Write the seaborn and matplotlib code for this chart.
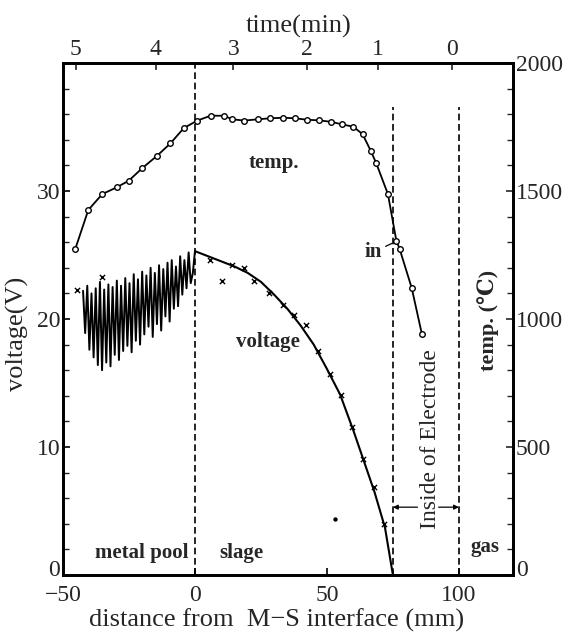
import matplotlib
matplotlib.use("Agg")
import matplotlib.pyplot as plt
import matplotlib.transforms as mtransforms
import seaborn as sns
import pandas as pd

# ---------------- data ----------------
# temperature (right axis, degC) vs distance from M-S interface (mm)
temp_d = [-45.4, -40.4, -35.1, -29.7, -25.1, -20.0, -14.3, -9.3, -4.2, 0.9,
          5.9, 10.9, 14.2, 18.7, 23.8, 28.5, 33.3, 38.0, 42.6, 47.0, 51.7,
          55.8, 60.0, 63.5, 66.6, 68.7, 73.1, 76.3, 77.5, 82.1, 86.0]
temp_c = [1272, 1426, 1488, 1514, 1540, 1589, 1638, 1686, 1746, 1775,
          1794, 1794, 1780, 1775, 1780, 1784, 1786, 1784, 1778, 1776, 1770,
          1760, 1751, 1722, 1657, 1608, 1488, 1306, 1275, 1122, 940]

# voltage curve in the slag (V)
volt_curve_d = [0, 5, 10, 15, 20, 25, 30, 35, 40, 45, 50, 55, 60, 64, 68, 72, 75]
volt_curve_v = [25.3, 24.9, 24.5, 24.1, 23.6, 22.9, 21.9, 20.8, 19.5, 18.0, 16.1,
                14.1, 11.3, 8.9, 6.5, 3.7, 0.0]

# measured voltage points (x marks)
volt_mark_d = [-44.8, -35.4, 5.8, 10.4, 14.0, 18.5, 22.5, 28.2, 33.2, 37.6, 42.0,
               46.6, 51.1, 55.2, 59.4, 63.6, 67.8, 71.8]
volt_mark_v = [22.3, 23.3, 24.6, 23.0, 24.2, 24.0, 23.0, 22.0, 21.1, 20.3, 19.5,
               17.5, 15.7, 14.1, 11.6, 9.1, 6.9, 4.0]

# stray printed dot
dot_d = [52.9]
dot_v = [4.35]

# oscillating voltage record in the metal pool (V)
trace_d = [-42.4, -41.6, -40.8, -40.0, -39.2, -38.4, -37.6, -36.8, -36.0, -35.2,
           -34.4, -33.6, -32.8, -32.0, -31.2, -30.4, -29.6, -28.8, -28.0, -27.2,
           -26.4, -25.6, -24.8, -24.0, -23.2, -22.4, -21.6, -20.8, -20.0, -19.2,
           -18.4, -17.6, -16.8, -16.0, -15.2, -14.4, -13.6, -12.8, -12.0, -11.2,
           -10.4, -9.6, -8.8, -8.0, -7.2, -6.4, -5.6, -4.8, -4.0, -3.2,
           -2.4, -1.6, -0.8, 0.0]
trace_v = [22.2, 18.9, 22.6, 17.6, 22.0, 17.0, 22.4, 16.4, 22.9, 16.0,
           22.3, 16.6, 22.7, 16.3, 22.5, 17.2, 23.0, 16.8, 22.6, 17.5,
           23.2, 17.9, 22.8, 17.4, 23.5, 18.3, 23.1, 18.0, 23.7, 18.8,
           23.4, 19.4, 24.0, 18.6, 23.6, 19.6, 24.2, 19.1, 23.9, 20.2,
           24.4, 19.8, 24.6, 20.8, 24.1, 21.0, 24.9, 21.9, 24.6, 22.4,
           25.2, 22.8, 23.6, 25.3]

# boundaries (mm)
interface_d = 0
electrode_d = 75
gas_d = 100

# top axis: time (min)
time_labels = ["5", "4", "3", "2", "1", "0"]
time_pos_d = [-45.2, -14.8, 14.6, 42.3, 69.3, 97.4]

x_ticks = [-50, 0, 50, 100]
x_ticklabels = ["\u221250", "0", "50", "100"]
v_ticks = [0, 10, 20, 30]
t_ticks = [0, 500, 1000, 1500, 2000]

# ---------------- drawing ----------------
sns.set_style("ticks")
plt.rcParams["font.family"] = ["Liberation Serif", "DejaVu Serif", "DejaVu Sans"]
TICK_FS = 17
LAB_FS = 19
TXT_FS = 15

fig = plt.figure(figsize=(5.69, 6.33), dpi=100)
ax = fig.add_axes([0.1107, 0.0916, 0.7909, 0.8089])
ax2 = ax.twinx()
ax3 = ax.twiny()

K = "black"

# oscillating trace
sns.lineplot(data=pd.DataFrame({"d": trace_d, "v": trace_v}), x="d", y="v",
             sort=False, estimator=None, color=K, lw=1.4, ax=ax)
# voltage curve
sns.lineplot(data=pd.DataFrame({"d": volt_curve_d, "v": volt_curve_v}), x="d", y="v",
             sort=False, estimator=None, color=K, lw=1.5, ax=ax)
# voltage marks
sns.scatterplot(data=pd.DataFrame({"d": volt_mark_d, "v": volt_mark_v}), x="d", y="v",
                marker="x", s=14, color=K, linewidth=1.0, ax=ax)
sns.scatterplot(data=pd.DataFrame({"d": dot_d, "v": dot_v}), x="d", y="v",
                marker="o", s=10, color=K, linewidth=0, ax=ax)

# temperature
sns.lineplot(data=pd.DataFrame({"d": temp_d, "t": temp_c}), x="d", y="t",
             sort=False, estimator=None, color=K, lw=1.3, ax=ax2,
             marker="o", markersize=4, markerfacecolor="white",
             markeredgecolor=K, markeredgewidth=1.0)

# dashed boundaries
dash = (0, (4, 2.2))
ax.axvline(interface_d, ymin=0, ymax=1, color=K, lw=1.2, ls=dash)
ax.axvline(electrode_d, ymin=0, ymax=36.6 / 40, color=K, lw=1.2, ls=dash)
ax.axvline(gas_d, ymin=0, ymax=36.6 / 40, color=K, lw=1.2, ls=dash)

# limits
ax.set_xlim(-50, 120.5)
ax.set_ylim(0, 40)
ax2.set_ylim(0, 2000)
ax3.set_xlim(ax.get_xlim())

# ticks
ax.set_xticks(x_ticks)
ax.set_xticklabels(x_ticklabels)
ax.set_yticks(v_ticks)
ax.set_yticks(list(range(0, 40, 2)), minor=True)
ax2.set_yticks(t_ticks)
ax2.set_yticks(list(range(0, 2001, 100)), minor=True)
ax3.set_xticks(time_pos_d)
ax3.set_xticklabels(time_labels)

ax.tick_params(axis="both", which="major", direction="in", length=5, width=1.2,
               labelsize=TICK_FS, pad=2, color=K)
ax.tick_params(axis="y", which="minor", direction="in", length=4, width=1.0)
ax.tick_params(axis="x", which="major", pad=7)
ax2.tick_params(axis="y", which="major", direction="in", length=5, width=1.2,
                labelsize=TICK_FS, pad=2)
ax2.tick_params(axis="y", which="minor", direction="in", length=4, width=1.0)
ax3.tick_params(axis="x", which="major", direction="in", length=5, width=1.2,
                labelsize=TICK_FS, pad=2)

# the two "0" labels at the bottom sit slightly above the bottom spine
lift = mtransforms.ScaledTranslation(0, 5 / 72, fig.dpi_scale_trans)
for lab in (ax.get_yticklabels()[0], ax2.get_yticklabels()[0]):
    lab.set_transform(lab.get_transform() + lift)

for a in (ax, ax2, ax3):
    for s in a.spines.values():
        s.set_linewidth(1.8)
        s.set_color(K)

ax.set_xlabel("")
ax.set_ylabel("voltage(V)", fontsize=LAB_FS)
ax.yaxis.set_label_coords(-0.075, 0.47)
ax2.set_ylabel("")
ax3.set_xlabel("")

fig.text(277.0 / 569, 1 - 620 / 633, "distance from  M\u2212S interface (mm)",
         ha="center", va="center", fontsize=LAB_FS)
fig.text(299.0 / 569, 1 - 26 / 633, "time(min)", ha="center", va="center",
         fontsize=LAB_FS)

# in-plot texts
ax.text(30, 32.2, "temp.", ha="center", va="center", fontsize=TXT_FS, weight="bold")
ax.text(27.5, 18.2, "voltage", ha="center", va="center", fontsize=TXT_FS, weight="bold")
ax.text(-20, 1.7, "metal pool", ha="center", va="center", fontsize=TXT_FS, weight="bold")
ax.text(17.7, 1.7, "slage", ha="center", va="center", fontsize=TXT_FS, weight="bold")
ax.text(110, 2.2, "gas", ha="center", va="center", fontsize=TXT_FS, weight="bold")
ax.text(89.2, 10.6, "Inside of Electrode", ha="center", va="center",
        rotation=90, fontsize=17)
ax.text(111, 19.9, "temp. (\u2103)", ha="center", va="center", rotation=90,
        fontsize=16, weight="bold")

ax2.annotate("in", xy=(75.6, 1300), xytext=(71.0, 1262), ha="right", va="center",
             fontsize=TXT_FS, weight="bold",
             arrowprops=dict(arrowstyle="-", color=K, lw=0.9, shrinkA=0, shrinkB=2))

# dimension arrows for the electrode
ax.annotate("", xy=(electrode_d, 5.3), xytext=(84.3, 5.3),
            arrowprops=dict(arrowstyle="-|>", color=K, lw=0.9, mutation_scale=7,
                            shrinkA=0, shrinkB=0))
ax.annotate("", xy=(gas_d, 5.3), xytext=(92.3, 5.3),
            arrowprops=dict(arrowstyle="-|>", color=K, lw=0.9, mutation_scale=7,
                            shrinkA=0, shrinkB=0))

fig.savefig("out.png", dpi=100)
